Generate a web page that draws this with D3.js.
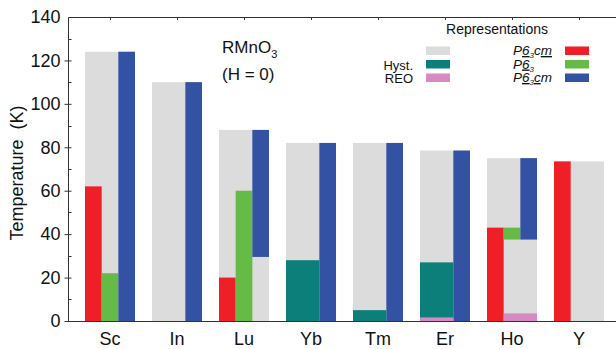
<!DOCTYPE html>
<html>
<head>
<meta charset="utf-8">
<script src="https://cdn.jsdelivr.net/npm/d3@7"></script>
<style>
  html, body { margin: 0; padding: 0; background: #fff; }
  svg { display: block; font-family: "Liberation Sans", Arial, sans-serif; }
</style>
</head>
<body>
<svg id="chart" width="616" height="349"></svg>
<script>
// Rare-earth manganites RMnO3 at zero field
const categories = ["Sc", "In", "Lu", "Yb", "Tm", "Er", "Ho", "Y"];
// Ordering temperature (K): grey envelope of each compound
const envelope = [124, 110, 88, 82, 82, 78.5, 75, 73.5];

// Phase ranges: [compound, first lane, last lane, T low, T high]
const phaseRed = [["Sc", 0, 0, 0, 62], ["Lu", 0, 0, 0, 20], ["Ho", 0, 0, 0, 43], ["Y", 0, 0, 0, 73.5]];
const phaseGreen = [["Sc", 1, 1, 0, 22], ["Lu", 1, 1, 0, 60], ["Ho", 1, 1, 37.5, 43]];
const phaseBlue = [["Sc", 2, 2, 0, 124], ["In", 2, 2, 0, 110], ["Lu", 2, 2, 29.5, 88], ["Yb", 2, 2, 0, 82],
                   ["Tm", 2, 2, 0, 82], ["Er", 2, 2, 0, 78.5], ["Ho", 2, 2, 37.5, 75]];
const hysteresis = [["Yb", 0, 1, 0, 28], ["Tm", 0, 1, 0, 5], ["Er", 0, 1, 1.5, 27]];
const reo = [["Er", 0, 1, 0, 1.5], ["Ho", 1, 2, 0, 3.5]];

const yTicks = [0, 20, 40, 60, 80, 100, 120, 140];
const yMinor = [10, 30, 50, 70, 90, 110, 130];

const colors = {
  gray: "#dcdcdc", red: "#ee1f26", green: "#65bb46", blue: "#3452a4",
  teal: "#0d7f7a", pink: "#d58ac1"
};

const svg = d3.select("#chart");
const plotLeft = 68, plotTop = 17, plotBottom = 321, plotRight = 620;

const x = d3.scaleBand().domain(categories).range([76.5, 612.5])
  .paddingInner(0.254).paddingOuter(0.127);
const lane = d3.scaleBand().domain([0, 1, 2]).range([0, x.bandwidth()]);
const y = d3.scaleLinear().domain([0, 140]).range([plotBottom, plotTop]);

// grey envelopes
svg.append("g").selectAll("rect").data(categories).join("rect")
  .attr("x", d => x(d))
  .attr("width", x.bandwidth())
  .attr("y", (d, i) => y(envelope[i]))
  .attr("height", (d, i) => y(0) - y(envelope[i]))
  .attr("fill", colors.gray);

function drawPhase(rows, color) {
  svg.append("g").selectAll("rect").data(rows).join("rect")
    .attr("x", d => x(d[0]) + lane(d[1]))
    .attr("width", d => lane(d[2]) + lane.bandwidth() - lane(d[1]))
    .attr("y", d => y(d[4]))
    .attr("height", d => y(d[3]) - y(d[4]))
    .attr("fill", color);
}
drawPhase(phaseRed, colors.red);
drawPhase(phaseGreen, colors.green);
drawPhase(phaseBlue, colors.blue);
drawPhase(hysteresis, colors.teal);
drawPhase(reo, colors.pink);

// frame
const frame = svg.append("g").attr("stroke", "#333").attr("stroke-width", 1).attr("fill", "none");
frame.append("path").attr("d", `M${plotRight},${plotTop + 0.5}H${plotLeft + 0.5}V${plotBottom + 0.5}H${plotRight}`);

// y axis
const yAxis = d3.axisLeft(y).tickValues(yTicks).tickSize(4).tickPadding(4);
const gy = svg.append("g").attr("transform", `translate(${plotLeft + 0.5},0)`).call(yAxis);
gy.select(".domain").remove();
gy.selectAll(".tick line").attr("x2", -4).attr("x1", 3).attr("stroke", "#333");
gy.selectAll(".tick text").attr("font-size", 18).attr("fill", "#111")
  .attr("font-family", "'Liberation Sans', Arial, sans-serif");
gy.selectAll(".tick").filter(d => d === 140).select("line").remove();
svg.append("g").selectAll("line").data(yMinor).join("line")
  .attr("x1", plotLeft + 0.5).attr("x2", plotLeft + 3.5)
  .attr("y1", d => Math.round(y(d)) + 0.5).attr("y2", d => Math.round(y(d)) + 0.5)
  .attr("stroke", "#333");

// x axis
const xAxis = d3.axisBottom(x).tickSize(0).tickPadding(11);
const gx = svg.append("g").attr("transform", `translate(0,${plotBottom})`).call(xAxis);
gx.select(".domain").remove();
gx.selectAll(".tick text").attr("font-size", 18).attr("fill", "#111")
  .attr("font-family", "'Liberation Sans', Arial, sans-serif");
// small inward ticks on top frame
svg.append("g").selectAll("line").data(categories).join("line")
  .attr("x1", d => Math.round(x(d) + x.bandwidth() / 2) + 0.5)
  .attr("x2", d => Math.round(x(d) + x.bandwidth() / 2) + 0.5)
  .attr("y1", plotTop).attr("y2", plotTop + 3).attr("stroke", "#333");

// y title
svg.append("text")
  .attr("transform", `translate(23,${(plotTop + plotBottom) / 2 + 4}) rotate(-90)`)
  .attr("text-anchor", "middle").attr("font-size", 18).attr("fill", "#111")
  .attr("xml:space", "preserve")
  .text("Temperature  (K)");

// compound label
const lbl = svg.append("text").attr("x", 222).attr("y", 53).attr("font-size", 17).attr("fill", "#111");
lbl.append("tspan").text("RMnO");
lbl.append("tspan").attr("dy", 5).attr("font-size", 11).text("3");
svg.append("text").attr("x", 222).attr("y", 80).attr("font-size", 17).attr("fill", "#111")
  .text("(H = 0)");

// legend
const leg = svg.append("g").attr("fill", "#111");
leg.append("text").attr("x", 497).attr("y", 34).attr("text-anchor", "middle")
  .attr("font-size", 14).text("Representations");

const legLeft = [
  { label: "", color: colors.gray, y: 46.5 },
  { label: "Hyst.", color: colors.teal, y: 60 },
  { label: "REO", color: colors.pink, y: 73.5 }
];
legLeft.forEach(d => {
  leg.append("rect").attr("x", 426).attr("y", d.y).attr("width", 24).attr("height", 8.5).attr("fill", d.color);
  if (d.label) leg.append("text").attr("x", 413).attr("y", d.y + 9.5).attr("text-anchor", "end")
    .attr("font-size", 13).text(d.label);
});

const legRight = [
  { color: colors.red, y: 46.5, tail: [["c", false], ["m", true]] },
  { color: colors.green, y: 60, tail: [] },
  { color: colors.blue, y: 73.5, tail: [["c", true], ["m", false]] }
];
legRight.forEach(d => {
  leg.append("rect").attr("x", 565).attr("y", d.y).attr("width", 24).attr("height", 8.5).attr("fill", d.color);
  const t = leg.append("text").attr("x", 513).attr("y", d.y + 8.5).attr("font-size", 13.5)
    .attr("font-style", "italic");
  t.append("tspan").text("P");
  t.append("tspan").style("text-decoration", "underline").text("6");
  t.append("tspan").attr("dy", 3).attr("font-size", 8).text("3");
  d.tail.forEach((p, i) => {
    const s = t.append("tspan").text(p[0]);
    if (i === 0) s.attr("dy", -3);
    if (p[1]) s.style("text-decoration", "underline");
  });
});
</script>
</body>
</html>
